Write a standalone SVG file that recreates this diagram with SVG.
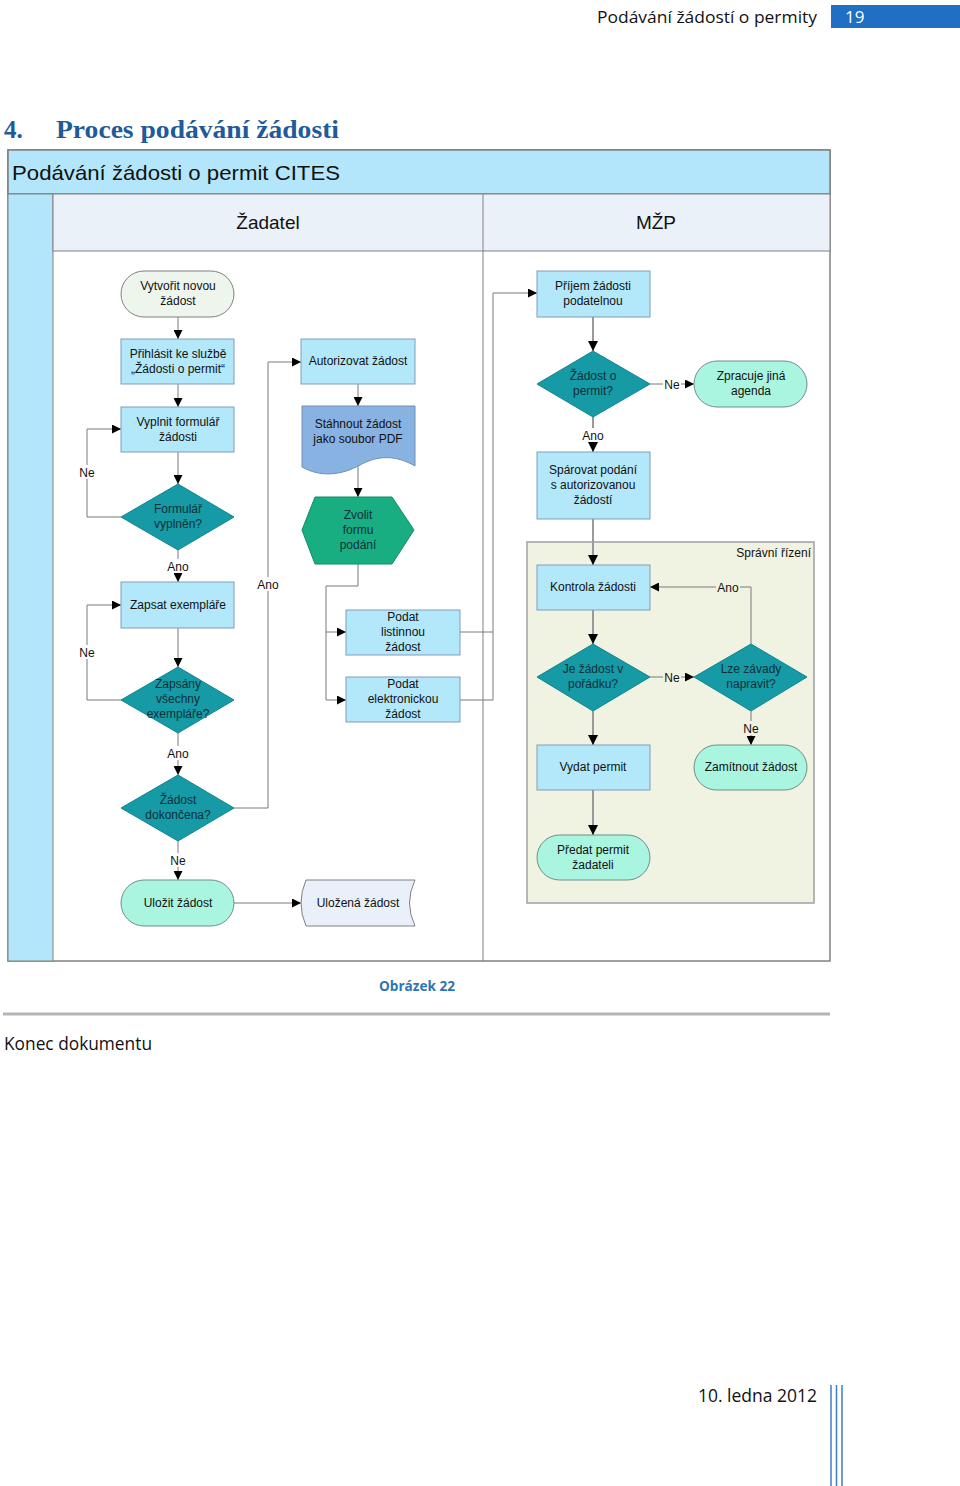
<svg xmlns="http://www.w3.org/2000/svg" width="960" height="1486" viewBox="0 0 960 1486">
<style>
text{font-family:"Liberation Sans",Arial,sans-serif;fill:#111}
.n{font-size:12px;text-anchor:middle}
.d{font-size:12px;text-anchor:middle;fill:#0c2f3a}
.lbl{font-size:12px;text-anchor:middle}
.rect{fill:#b3e8fb;stroke:#7f9db9;stroke-width:1}
.term{fill:#aaf5df;stroke:#6f8f88;stroke-width:1}
.dia{fill:#169aa5;stroke:#0f8590;stroke-width:1}
.c{fill:none;stroke:#7a7a7a;stroke-width:1}
.cg{fill:none;stroke:#9a9a9a;stroke-width:2}
.hdr{font-family:"Open Sans","Liberation Sans",sans-serif}
</style>
<defs>
<marker id="ar" viewBox="0 0 10 10" refX="10" refY="5" markerWidth="9" markerHeight="9" markerUnits="userSpaceOnUse" orient="auto">
<path d="M0,0 L10,5 L0,10 Z" fill="#000"/>
</marker>
<marker id="ar2" viewBox="0 0 10 10" refX="10" refY="5" markerWidth="5" markerHeight="5" orient="auto">
<path d="M0,0 L10,5 L0,10 Z" fill="#000"/>
</marker>
</defs>
<rect width="960" height="1486" fill="#fff"/>

<!-- page header -->
<g id="page-header">
<text class="hdr" x="817" y="23" font-size="17" text-anchor="end" textLength="220" lengthAdjust="spacingAndGlyphs">Podávání žádostí o permity</text>
<rect x="831" y="5" width="129" height="23" fill="#1f6fc5"/>
<text class="hdr" x="845" y="23" font-size="17" style="fill:#fff">19</text>
<text x="4" y="138" font-size="25" font-weight="bold" style="font-family:'Liberation Serif',serif;fill:#1f5b9a">4.</text>
<text x="56" y="138" font-size="25" font-weight="bold" style="font-family:'Liberation Serif',serif;fill:#1f5b9a" textLength="283" lengthAdjust="spacingAndGlyphs">Proces podávání žádosti</text>
</g>

<!-- pool -->
<g id="pool">
<rect x="8" y="150" width="822" height="811" fill="#fff" stroke="#808080" stroke-width="1.5"/>
<rect x="8" y="150" width="822" height="44" fill="#b3e6fa" stroke="#808080" stroke-width="1.5"/>
<text x="12" y="180" font-size="21" textLength="328" lengthAdjust="spacingAndGlyphs">Podávání žádosti o permit CITES</text>
<rect x="8" y="194" width="45" height="767" fill="#b3e6fa" stroke="#808080" stroke-width="1"/>
<rect x="53" y="194" width="777" height="57" fill="#eaf1f9" stroke="#808080" stroke-width="1"/>
<line x1="483" y1="194" x2="483" y2="961" stroke="#808080" stroke-width="1"/>
<text x="268" y="229" font-size="19" text-anchor="middle">Žadatel</text>
<text x="656" y="229" font-size="19" text-anchor="middle">MŽP</text>
</g>

<g id="spravni-rizeni">
<rect x="527" y="542" width="287" height="361" fill="#f0f3e2" stroke="#a0a0a0" stroke-width="1.5"/>
<text x="811" y="557" font-size="12" text-anchor="end">Správní řízení</text>
</g>

<!-- connectors -->
<g id="connectors">
<path class="c" d="M178,317 V339" marker-end="url(#ar)"/>
<path class="c" d="M178,384 V407" marker-end="url(#ar)"/>
<path class="c" d="M178,452 V484" marker-end="url(#ar)"/>
<path class="c" d="M121,517 H87 V429 H121" marker-end="url(#ar)"/>
<path class="c" d="M178,550 V582" marker-end="url(#ar)"/>
<path class="c" d="M178,628 V667" marker-end="url(#ar)"/>
<path class="c" d="M121,700 H87 V605 H121" marker-end="url(#ar)"/>
<path class="c" d="M178,733 V775" marker-end="url(#ar)"/>
<path class="c" d="M234,808 H268 V362 H301" marker-end="url(#ar)"/>
<path class="c" d="M178,841 V880" marker-end="url(#ar)"/>
<path class="c" d="M234,903 H301" marker-end="url(#ar)"/>
<path class="c" d="M358,384 V406" marker-end="url(#ar)"/>
<path class="c" d="M358,466 V497" marker-end="url(#ar)"/>
<path class="c" d="M358,564 V586 H326 V700 H346" marker-end="url(#ar)"/>
<path class="c" d="M326,632 H346" marker-end="url(#ar)"/>
<path class="c" d="M460,632 H493"/>
<path class="c" d="M460,700 H493 V293 H537" marker-end="url(#ar)"/>
<path class="cg" d="M593,317 V351" marker-end="url(#ar2)"/>
<path class="c" d="M650,384 H694" marker-end="url(#ar)"/>
<path class="cg" d="M593,417 V452" marker-end="url(#ar2)"/>
<path class="cg" d="M593,519 V565" marker-end="url(#ar2)"/>
<path class="cg" d="M593,610 V644" marker-end="url(#ar2)"/>
<path class="c" d="M650,677 H694" marker-end="url(#ar)"/>
<path class="c" d="M751,644 V587 H650" marker-end="url(#ar)"/>
<path class="c" d="M751,711 V745" marker-end="url(#ar)"/>
<path class="cg" d="M593,711 V745" marker-end="url(#ar2)"/>
<path class="cg" d="M593,790 V835" marker-end="url(#ar2)"/>
<!-- labels -->
<rect x="78" y="465" width="18" height="14" fill="#fff"/>
<text class="lbl" x="87" y="477">Ne</text>
<rect x="78" y="645" width="18" height="14" fill="#fff"/>
<text class="lbl" x="87" y="657">Ne</text>
<rect x="166" y="559" width="24" height="14" fill="#fff"/>
<text class="lbl" x="178" y="571">Ano</text>
<rect x="166" y="746" width="24" height="14" fill="#fff"/>
<text class="lbl" x="178" y="758">Ano</text>
<rect x="256" y="577" width="24" height="14" fill="#fff"/>
<text class="lbl" x="268" y="589">Ano</text>
<rect x="169" y="853" width="18" height="14" fill="#fff"/>
<text class="lbl" x="178" y="865">Ne</text>
<rect x="663" y="377" width="18" height="14" fill="#fff"/>
<text class="lbl" x="672" y="389">Ne</text>
<rect x="581" y="428" width="24" height="14" fill="#fff"/>
<text class="lbl" x="593" y="440">Ano</text>
<rect x="663" y="670" width="18" height="14" fill="#f0f3e2"/>
<text class="lbl" x="672" y="682">Ne</text>
<rect x="716" y="580" width="24" height="14" fill="#f0f3e2"/>
<text class="lbl" x="728" y="592">Ano</text>
<rect x="742" y="721" width="18" height="14" fill="#f0f3e2"/>
<text class="lbl" x="751" y="733">Ne</text>
</g>

<!-- nodes: Zadatel -->
<g id="n-vytvorit">
<rect x="121" y="271" width="113" height="46" rx="23" fill="#eef5ec" stroke="#808080"/>
<text class="n" x="178" y="290">Vytvořit novou</text>
<text class="n" x="178" y="305">žádost</text>
</g>
<g id="n-prihlasit">
<rect class="rect" x="121" y="339" width="113" height="45"/>
<text class="n" x="178" y="358">Přihlásit ke službě</text>
<text class="n" x="178" y="373">„Žádosti o permit“</text>
</g>
<g id="n-vyplnit">
<rect class="rect" x="121" y="407" width="113" height="45"/>
<text class="n" x="178" y="426">Vyplnit formulář</text>
<text class="n" x="178" y="441">žádosti</text>
</g>
<g id="n-formular">
<polygon class="dia" points="178,484 234,517 178,550 121,517"/>
<text class="d" x="178" y="513">Formulář</text>
<text class="d" x="178" y="528">vyplněn?</text>
</g>
<g id="n-zapsat">
<rect class="rect" x="121" y="582" width="113" height="46"/>
<text class="n" x="178" y="609">Zapsat exempláře</text>
</g>
<g id="n-zapsany">
<polygon class="dia" points="178,667 234,700 178,733 121,700"/>
<text class="d" x="178" y="688">Zapsány</text>
<text class="d" x="178" y="703">všechny</text>
<text class="d" x="178" y="718">exempláře?</text>
</g>
<g id="n-dokoncena">
<polygon class="dia" points="178,775 234,808 178,841 121,808"/>
<text class="d" x="178" y="804">Žádost</text>
<text class="d" x="178" y="819">dokončena?</text>
</g>
<g id="n-ulozit">
<rect class="term" x="121" y="880" width="113" height="46" rx="23"/>
<text class="n" x="178" y="907">Uložit žádost</text>
</g>
<g id="n-ulozena">
<path d="M306,880 H415 Q404,903 415,926 H306 Q296,903 306,880 Z" fill="#e9f0f9" stroke="#808080"/>
<text class="n" x="358" y="907">Uložená žádost</text>
</g>
<g id="n-autorizovat">
<rect class="rect" x="301" y="339" width="114" height="45"/>
<text class="n" x="358" y="365">Autorizovat žádost</text>
</g>
<g id="n-stahnout">
<path d="M302,406 H415 V466 C396,455 378,455 360,465 C340,476 320,477 302,467 Z" fill="#88b2e2" stroke="#6f8fb0"/>
<text class="n" x="358" y="428">Stáhnout žádost</text>
<text class="n" x="358" y="443">jako soubor PDF</text>
</g>
<g id="n-zvolit">
<polygon points="315,497 392,497 414,530 392,564 315,564 302,530" fill="#19ae82" stroke="#128a66"/>
<text class="d" x="358" y="519">Zvolit</text>
<text class="d" x="358" y="534">formu</text>
<text class="d" x="358" y="549">podání</text>
</g>
<g id="n-listinnou">
<rect class="rect" x="346" y="610" width="114" height="45"/>
<text class="n" x="403" y="621">Podat</text>
<text class="n" x="403" y="636">listinnou</text>
<text class="n" x="403" y="651">žádost</text>
</g>
<g id="n-elektronickou">
<rect class="rect" x="346" y="677" width="114" height="45"/>
<text class="n" x="403" y="688">Podat</text>
<text class="n" x="403" y="703">elektronickou</text>
<text class="n" x="403" y="718">žádost</text>
</g>

<!-- nodes: MZP -->
<g id="n-prijem">
<rect class="rect" x="537" y="271" width="113" height="46"/>
<text class="n" x="593" y="290">Příjem žádosti</text>
<text class="n" x="593" y="305">podatelnou</text>
</g>
<g id="n-opermit">
<polygon class="dia" points="593,351 650,384 593,417 537,384"/>
<text class="d" x="593" y="380">Žádost o</text>
<text class="d" x="593" y="395">permit?</text>
</g>
<g id="n-zpracuje">
<rect class="term" x="694" y="361" width="113" height="46" rx="23"/>
<text class="n" x="751" y="380">Zpracuje jiná</text>
<text class="n" x="751" y="395">agenda</text>
</g>
<g id="n-sparovat">
<rect class="rect" x="537" y="452" width="113" height="67"/>
<text class="n" x="593" y="474">Spárovat podání</text>
<text class="n" x="593" y="489">s autorizovanou</text>
<text class="n" x="593" y="504">žádostí</text>
</g>
<g id="n-kontrola">
<rect class="rect" x="537" y="565" width="113" height="45"/>
<text class="n" x="593" y="591">Kontrola žádosti</text>
</g>
<g id="n-poradku">
<polygon class="dia" points="593,644 650,677 593,711 537,677"/>
<text class="d" x="593" y="673">Je žádost v</text>
<text class="d" x="593" y="688">pořádku?</text>
</g>
<g id="n-napravit">
<polygon class="dia" points="751,644 807,677 751,711 694,677"/>
<text class="d" x="751" y="673">Lze závady</text>
<text class="d" x="751" y="688">napravit?</text>
</g>
<g id="n-vydat">
<rect class="rect" x="537" y="745" width="113" height="45"/>
<text class="n" x="593" y="771">Vydat permit</text>
</g>
<g id="n-zamitnout">
<rect class="term" x="694" y="745" width="113" height="45" rx="22.5"/>
<text class="n" x="751" y="771">Zamítnout žádost</text>
</g>
<g id="n-predat">
<rect class="term" x="537" y="835" width="113" height="45" rx="22.5"/>
<text class="n" x="593" y="854">Předat permit</text>
<text class="n" x="593" y="869">žadateli</text>
</g>

<!-- page footer -->
<g id="page-footer">
<text class="hdr" x="417" y="991" font-size="15" font-weight="bold" text-anchor="middle" style="fill:#2e74b5" textLength="76" lengthAdjust="spacingAndGlyphs">Obrázek 22</text>
<line x1="3" y1="1014" x2="830" y2="1014" stroke="#b5b5b5" stroke-width="3"/>
<text class="hdr" x="4" y="1050" font-size="18" textLength="148" lengthAdjust="spacingAndGlyphs">Konec dokumentu</text>
<text class="hdr" x="817" y="1402" font-size="18" text-anchor="end" textLength="119" lengthAdjust="spacingAndGlyphs">10. ledna 2012</text>
<line x1="831" y1="1385" x2="831" y2="1486" stroke="#3d7cc9" stroke-width="1.5"/>
<line x1="836.5" y1="1385" x2="836.5" y2="1486" stroke="#3d7cc9" stroke-width="1.5"/>
<line x1="842" y1="1385" x2="842" y2="1486" stroke="#3d7cc9" stroke-width="1.5"/>
</g>
</svg>
